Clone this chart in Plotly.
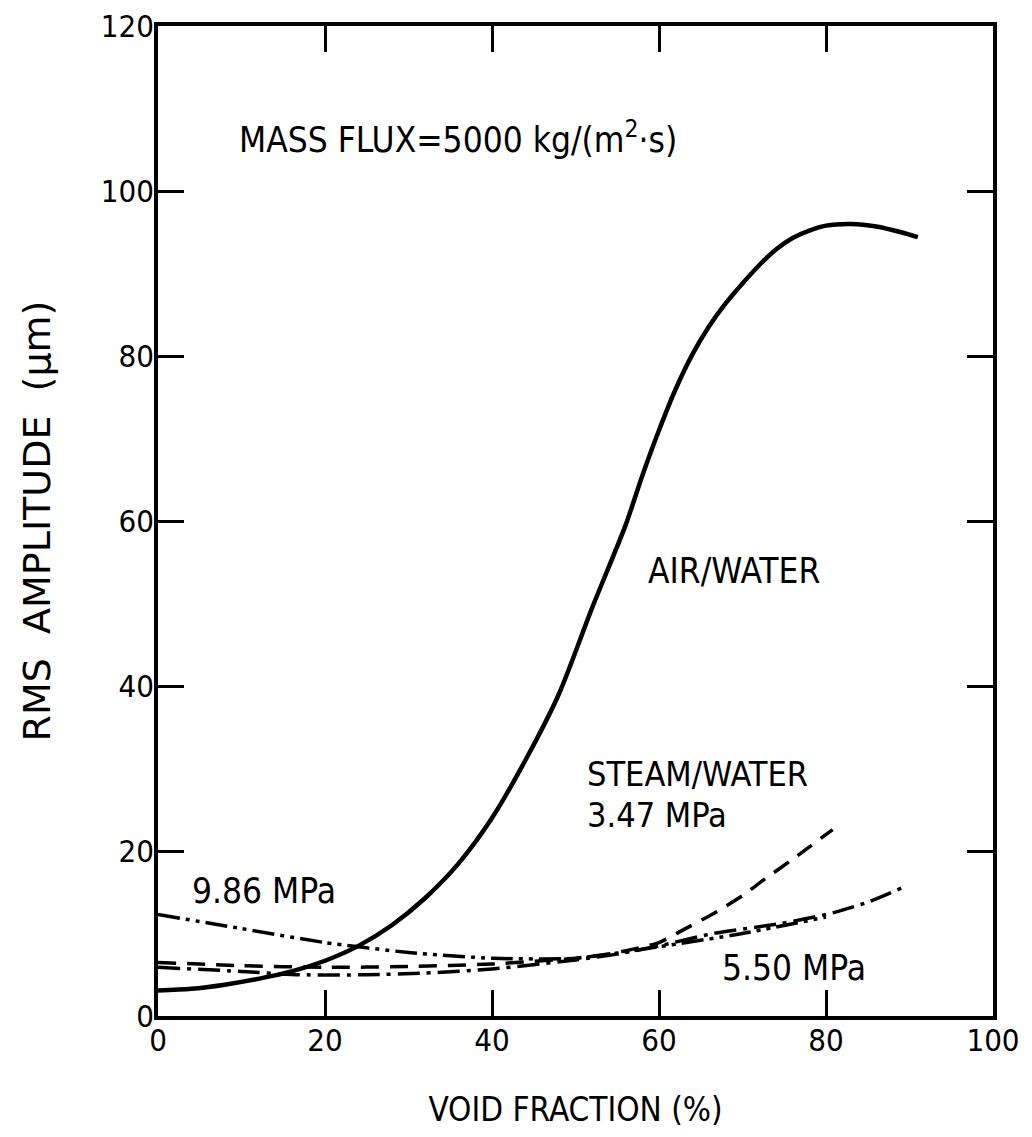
import plotly.graph_objects as go

# AIR/WATER (solid)
air_x = [0, 4, 8, 12, 16, 20, 24, 28, 32, 36, 40, 44, 48, 52, 56, 58, 60, 62, 64, 66, 68, 70, 72, 74, 76, 78, 80, 83, 86, 89, 91]
air_y = [3.1, 3.3, 3.8, 4.5, 5.4, 6.7, 8.5, 11, 14.3, 18.5, 24, 31, 39, 49.5, 59.5, 65.5, 71, 76, 80.2, 83.6, 86.4, 88.8, 91, 92.9, 94.3, 95.2, 95.8, 96.0, 95.7, 95.0, 94.4]

# STEAM/WATER 3.47 MPa (dashed)
s347_x = [0, 10, 20, 30, 40, 50, 55, 60, 63, 66.5, 70, 72.4, 76, 80.8]
s347_y = [6.5, 6.1, 5.9, 6.0, 6.3, 7.0, 7.7, 8.9, 10.5, 12.4, 14.6, 16.4, 19.0, 22.6]

# STEAM/WATER 5.50 MPa (dash-dot)
s550_x = [0, 10, 17, 25, 32, 40, 50, 55, 60, 66.5, 74.5, 80.4, 85, 89]
s550_y = [5.9, 5.4, 5.0, 5.0, 5.2, 5.7, 6.8, 7.5, 8.5, 10.0, 11.2, 12.4, 13.8, 15.5]

# STEAM/WATER 9.86 MPa (dash-dot-dot)
s986_x = [0, 10, 20, 30, 40, 50, 60, 70, 80]
s986_y = [12.3, 10.6, 8.9, 7.7, 7.0, 7.0, 8.4, 10.0, 12.0]

x_ticks = [0, 20, 40, 60, 80, 100]
y_ticks = [0, 20, 40, 60, 80, 100, 120]

FONT = "DejaVu Sans Condensed, DejaVu Sans, sans-serif"
FONT_WIDE = "DejaVu Sans, sans-serif"

fig = go.Figure()
fig.add_trace(go.Scatter(x=air_x, y=air_y, mode="lines", line=dict(color="black", width=4.5, shape="spline", smoothing=0.8)))
fig.add_trace(go.Scatter(x=s347_x, y=s347_y, mode="lines", line=dict(color="black", width=3.5, dash="18px,11px", shape="spline", smoothing=0.6)))
fig.add_trace(go.Scatter(x=s550_x, y=s550_y, mode="lines", line=dict(color="black", width=3.5, dash="22px,7px,4px,7px", shape="spline", smoothing=0.6)))
fig.add_trace(go.Scatter(x=s986_x, y=s986_y, mode="lines", line=dict(color="black", width=3.5, dash="22px,6px,4px,6px,4px,6px", shape="spline", smoothing=0.6)))

annots = [
    (9.5, 106.5, "MASS FLUX=5000 kg/(m<sup>2</sup>·s)", 35),
    (58.4, 53.9, "AIR/WATER", 35),
    (51.1, 29.3, "STEAM/WATER", 34),
    (51.1, 24.4, "3.47 MPa", 34),
    (3.8, 15.2, "9.86 MPa", 35),
    (67.3, 5.8, "5.50 MPa", 35),
]
for ax_, ay_, t, fs in annots:
    fig.add_annotation(x=ax_, y=ay_, text=t, showarrow=False, xanchor="left", yanchor="middle",
                       font=dict(family=FONT, size=fs, color="black"))

axis_common = dict(showline=True, linecolor="black", linewidth=3.5, mirror="ticks",
                   ticks="inside", ticklen=26, tickwidth=3, tickcolor="black",
                   showgrid=False, zeroline=False, ticklabeloverflow="allow",
                   ticklabelstandoff=-6,
                   tickfont=dict(family=FONT, size=31, color="black"))

fig.update_xaxes(range=[0, 100], tickvals=x_ticks, ticktext=[str(v) for v in x_ticks], automargin="bottom",
                 title=dict(text="VOID FRACTION (%)", font=dict(family=FONT, size=33, color="black"), standoff=42),
                 **axis_common)
fig.update_yaxes(range=[0, 120], tickvals=y_ticks, ticktext=[str(v) for v in y_ticks], automargin="left",
                 title=dict(text="RMS  AMPLITUDE  (μm)", font=dict(family=FONT_WIDE, size=38, color="black"), standoff=40),
                 **axis_common)

fig.update_layout(width=1032, height=1137, margin=dict(l=150, r=47, t=18, b=129),
                  paper_bgcolor="white", plot_bgcolor="white", showlegend=False)

fig.write_html("out.html")
